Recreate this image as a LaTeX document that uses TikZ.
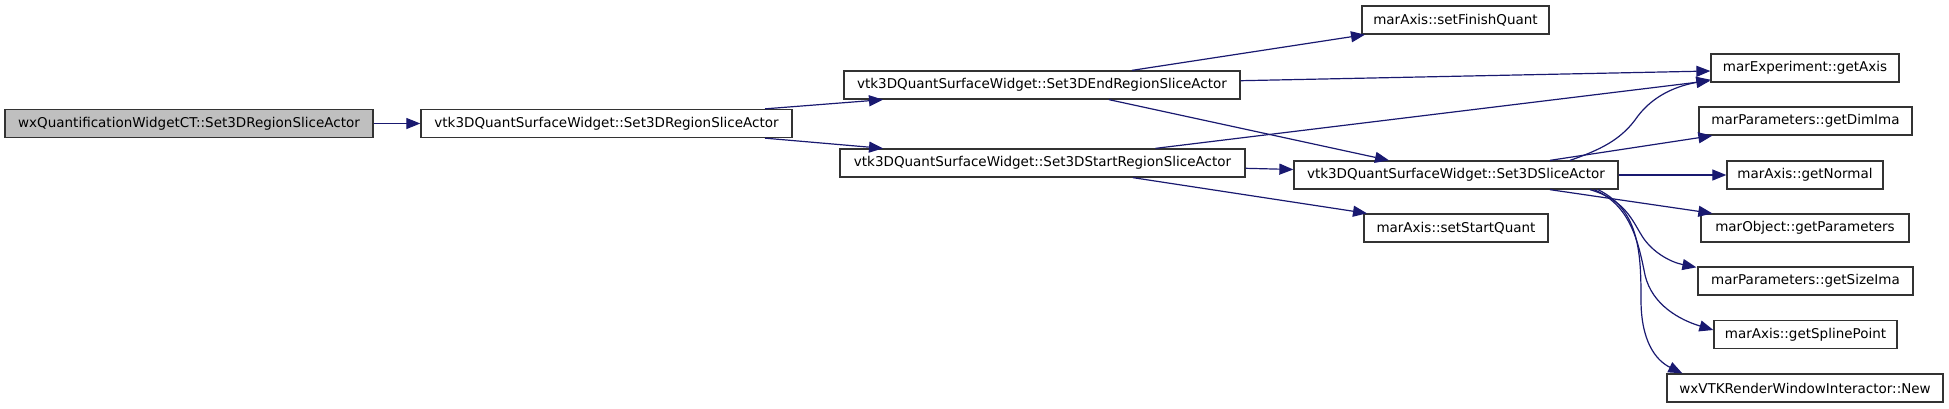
\documentclass[tikz,border=0pt]{standalone}
\usepackage{fontspec}
\setmainfont{DejaVu Sans}
\usetikzlibrary{arrows.meta,calc}
\definecolor{edgeblue}{HTML}{191970}
\definecolor{rootgray}{HTML}{BFBFBF}
\begin{document}
\begin{tikzpicture}[x=1pt,y=-1pt,
  box/.style={draw=black!80, line width=1.3pt, fill=white, inner sep=0pt,
    minimum height=28pt, font=\fontsize{13.5pt}{16pt}\selectfont},
  edge/.style={draw=edgeblue, line width=1.2pt, -{Triangle[length=14pt,width=11pt]}}]
\useasboundingbox (0,0) rectangle (1949,408);
% nodes
\node[box, fill=rootgray, minimum width=368pt] (A) at (189,123.5) {wxQuantificationWidgetCT::Set3DRegionSliceActor};
\node[box, minimum width=371pt] (B) at (606.5,123.5) {vtk3DQuantSurfaceWidget::Set3DRegionSliceActor};
\node[box, minimum width=396pt] (C) at (1042,85) {vtk3DQuantSurfaceWidget::Set3DEndRegionSliceActor};
\node[box, minimum width=405pt] (D) at (1042.5,163) {vtk3DQuantSurfaceWidget::Set3DStartRegionSliceActor};
\node[box, minimum width=187pt] (E) at (1455.5,20) {marAxis::setFinishQuant};
\node[box, minimum width=184pt] (F) at (1456,228) {marAxis::setStartQuant};
\node[box, minimum width=324pt] (G) at (1456,175) {vtk3DQuantSurfaceWidget::Set3DSliceActor};
\node[box, minimum width=188pt] (H) at (1805,68) {marExperiment::getAxis};
\node[box, minimum width=213pt] (I) at (1805.5,121) {marParameters::getDimIma};
\node[box, minimum width=156pt] (J) at (1805,175) {marAxis::getNormal};
\node[box, minimum width=208pt] (K) at (1805,228) {marObject::getParameters};
\node[box, minimum width=215pt] (L) at (1805.5,281) {marParameters::getSizeIma};
\node[box, minimum width=183pt] (M) at (1805.5,334.5) {marAxis::getSplinePoint};
\node[box, minimum width=276pt] (N) at (1805,388) {wxVTKRenderWindowInteractor::New};
% edges
\draw[edge] (A.east) -- (B.west);
\draw[edge] ([xshift=158.5pt]B.north) -- ([xshift=-159pt]C.south);
\draw[edge] ([xshift=158.5pt]B.south) -- ([xshift=-159.5pt]D.north);
\draw[edge] ([xshift=90pt]C.north) -- ([xshift=-90.5pt]E.south);
\draw[edge] ([yshift=4.3pt]C.east) -- ([yshift=-3pt]H.west);
\draw[edge] ([xshift=67pt]C.south) -- ([xshift=-67pt]G.north);
\draw[edge] ([xshift=113pt]D.north) -- ([yshift=2pt]H.south west);
\draw[edge] ([yshift=-5.3pt]D.east) -- ([yshift=5.5pt]G.west);
\draw[edge] ([xshift=90.5pt]D.south) -- ([xshift=-89pt]F.north);
\draw[edge] ([xshift=114pt]G.north) .. controls (1600,150) and (1620,140) .. (1635,120)
   .. controls (1650,98) and (1672,87) .. ([yshift=3pt]H.south west);
\draw[edge] ([xshift=94pt]G.north) -- ([xshift=14pt]I.south west);
\draw[edge] (G.east) -- (J.west);
\draw[edge] ([xshift=94pt]G.south) -- ([xshift=12pt]K.north west);
\draw[edge] ([xshift=134pt]G.south) .. controls (1625,200) and (1632,220) .. (1642,236)
   .. controls (1652,252) and (1670,262) .. ([xshift=-1pt,yshift=-1pt]L.north west);
\draw[edge] ([xshift=138pt]G.south) .. controls (1630,205) and (1638,240) .. (1645,275)
   .. controls (1652,305) and (1680,320) .. ([yshift=4.5pt]M.west);
\draw[edge] ([xshift=142pt]G.south) .. controls (1640,210) and (1641,255) .. (1641,300)
   .. controls (1641,340) and (1655,360) .. ([xshift=16pt]N.north west);
\end{tikzpicture}
\end{document}
